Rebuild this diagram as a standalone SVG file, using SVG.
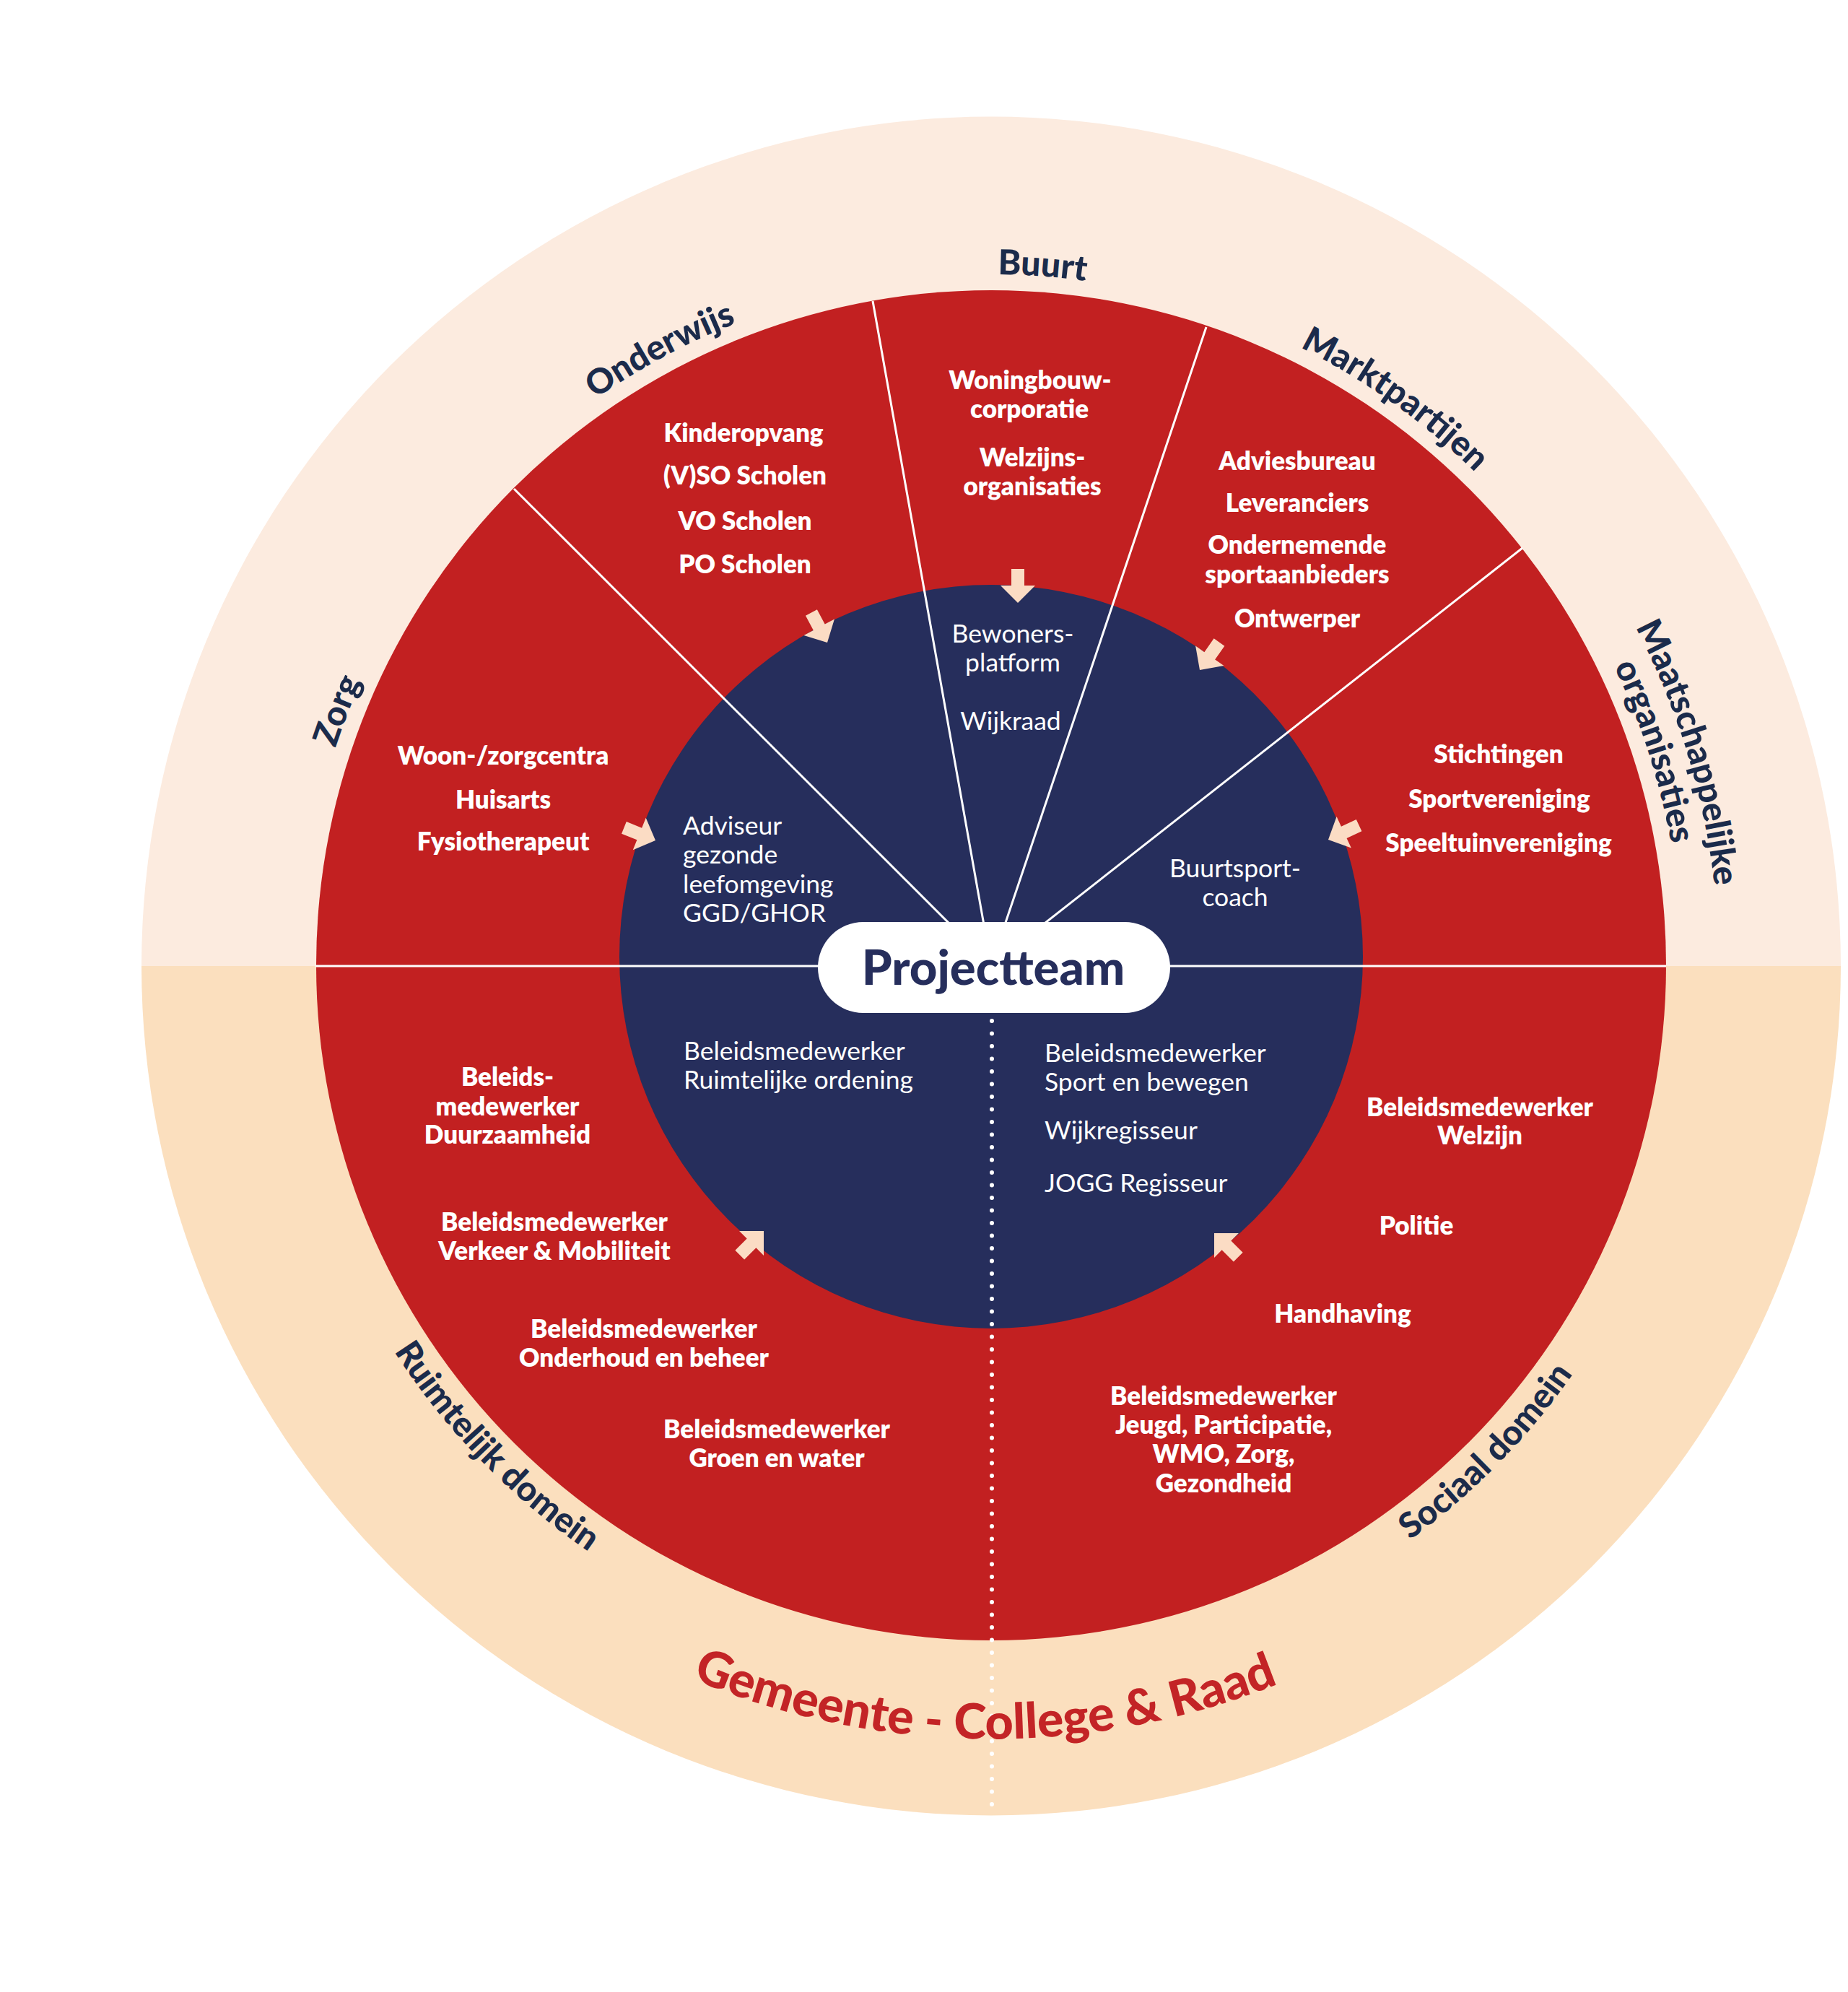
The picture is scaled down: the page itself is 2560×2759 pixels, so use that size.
<svg xmlns="http://www.w3.org/2000/svg" xmlns:xlink="http://www.w3.org/1999/xlink" width="2560" height="2759" viewBox="0 0 2560 2759">
<style>
.b{font-family:Lato,'Liberation Sans',sans-serif;font-weight:800;font-size:35px;fill:#fff;text-anchor:middle}
.r{font-family:Lato,'Liberation Sans',sans-serif;font-weight:400;font-size:35.5px;fill:#fff}
.rm{text-anchor:middle}
.lab{font-family:Lato,'Liberation Sans',sans-serif;font-weight:900;font-size:48px;fill:#1B2B4B;text-anchor:middle}
.gem{font-family:Lato,'Liberation Sans',sans-serif;font-weight:900;font-size:68px;fill:#C32426;text-anchor:middle}
.wl{stroke:#fff;stroke-width:3;fill:none}
.arr{fill:#FBDCC4}
</style>
<defs>
<path id="arrow" d="M0,0 L-24,-24 L-24,-9 L-47,-9 L-47,9 L-24,9 L-24,24 Z"/>
<path id="pTop" d="M416,1337 A957,957 0 0 1 2330,1337"/>
<path id="pTop2" d="M365,1337 A1008,1008 0 0 1 2381,1337"/>
<path id="pBot" d="M388,1337 A985,985 0 0 0 2358,1337"/>
<path id="pGem" d="M301,1337 A1072,1072 0 0 0 2445,1337"/>
</defs>
<rect width="2560" height="2759" fill="#fff"/>
<g id="outer-ring">
<path d="M196,1338 A1177,1177 0 0 1 2550,1338 Z" fill="#FCEBDF"/>
<path d="M2550,1338 A1177,1177 0 0 1 196,1338 Z" fill="#FBDFBE"/>
</g>
<g id="red-ring"><circle cx="1373" cy="1337" r="935" fill="#C22021"/></g>
<g id="navy-core"><circle cx="1373" cy="1325" r="515" fill="#262E5C"/></g>
<g id="connectors">
<line class="wl" x1="437" y1="1338" x2="2308" y2="1338"/>
<line class="wl" x1="712" y1="677" x2="1373" y2="1337"/>
<line class="wl" x1="1209" y1="417" x2="1373" y2="1337"/>
<line class="wl" x1="1671" y1="453" x2="1373" y2="1337"/>
<line class="wl" x1="2109" y1="759" x2="1373" y2="1337"/>
<line x1="1374" y1="1414" x2="1374" y2="2512" stroke="#fff" stroke-width="6" stroke-linecap="round" stroke-dasharray="0 17.5"/>
<use href="#arrow" class="arr" transform="translate(1410,835) rotate(90)"/>
<use href="#arrow" class="arr" transform="translate(1146,890) rotate(62)"/>
<use href="#arrow" class="arr" transform="translate(1662,928) rotate(125)"/>
<use href="#arrow" class="arr" transform="translate(1840,1163) rotate(155)"/>
<use href="#arrow" class="arr" transform="translate(908,1164) rotate(22)"/>
<use href="#arrow" class="arr" transform="translate(1058,1705) rotate(-45)"/>
<use href="#arrow" class="arr" transform="translate(1682,1708) rotate(-135)"/>
</g>
<g id="projectteam">
<rect x="1133" y="1277" width="488" height="126" rx="63" fill="#fff"/>
<text x="1376" y="1364" font-family="Lato,'Liberation Sans',sans-serif" font-weight="900" font-size="67" fill="#262E5C" text-anchor="middle">Projectteam</text>
</g>
<g id="zorg">
<text class="lab"><textPath href="#pTop" startOffset="355.8">Zorg</textPath></text>
<text class="b" x="697" y="1059">Woon-/zorgcentra</text>
<text class="b" x="697" y="1120">Huisarts</text>
<text class="b" x="697" y="1178">Fysiotherapeut</text>
<text class="r" x="946" y="1156">Adviseur</text>
<text class="r" x="946" y="1196">gezonde</text>
<text class="r" x="946" y="1237">leefomgeving</text>
<text class="r" x="946" y="1277">GGD/GHOR</text>
</g>
<g id="onderwijs">
<text class="lab"><textPath href="#pTop" startOffset="1030.6">Onderwijs</textPath></text>
<text class="b" x="1030" y="612">Kinderopvang</text>
<text class="b" x="1032" y="671">(V)SO Scholen</text>
<text class="b" x="1032" y="734">VO Scholen</text>
<text class="b" x="1032" y="794">PO Scholen</text>
</g>
<g id="buurt">
<text class="lab"><textPath href="#pTop" startOffset="1573.4">Buurt</textPath></text>
<text class="b" x="1427" y="539">Woningbouw-</text>
<text class="b" x="1426" y="579">corporatie</text>
<text class="b" x="1430" y="646">Welzijns-</text>
<text class="b" x="1430" y="686">organisaties</text>
<text class="r rm" x="1403" y="890">Bewoners-</text>
<text class="r rm" x="1403" y="930">platform</text>
<text class="r rm" x="1400" y="1011">Wijkraad</text>
</g>
<g id="marktpartijen">
<text class="lab"><textPath href="#pTop" startOffset="2096.2">Marktpartijen</textPath></text>
<text class="b" x="1797" y="651">Adviesbureau</text>
<text class="b" x="1797" y="709">Leveranciers</text>
<text class="b" x="1797" y="767">Ondernemende</text>
<text class="b" x="1797" y="808">sportaanbieders</text>
<text class="b" x="1797" y="869">Ontwerper</text>
</g>
<g id="maatschappelijke-organisaties">
<text class="lab"><textPath href="#pTop2" startOffset="2867.7">Maatschappelijke</textPath></text>
<text class="lab"><textPath href="#pTop" startOffset="2707.6">organisaties</textPath></text>
<text class="b" x="2076" y="1057">Stichtingen</text>
<text class="b" x="2077" y="1119">Sportvereniging</text>
<text class="b" x="2076" y="1180">Speeltuinvereniging</text>
<text class="r rm" x="1711" y="1215">Buurtsport-</text>
<text class="r rm" x="1711" y="1255">coach</text>
</g>
<g id="ruimtelijk-domein">
<text class="lab"><textPath href="#pBot" startOffset="759.9">Ruimtelijk domein</textPath></text>
<text class="r" x="947" y="1468">Beleidsmedewerker</text>
<text class="r" x="947" y="1508">Ruimtelijke ordening</text>
<text class="b" x="703" y="1504">Beleids-</text>
<text class="b" x="703" y="1545">medewerker</text>
<text class="b" x="703" y="1584">Duurzaamheid</text>
<text class="b" x="768" y="1705">Beleidsmedewerker</text>
<text class="b" x="768" y="1745">Verkeer &amp; Mobiliteit</text>
<text class="b" x="892" y="1853">Beleidsmedewerker</text>
<text class="b" x="892" y="1893">Onderhoud en beheer</text>
<text class="b" x="1076" y="1992">Beleidsmedewerker</text>
<text class="b" x="1076" y="2032">Groen en water</text>
</g>
<g id="sociaal-domein">
<text class="lab"><textPath href="#pBot" startOffset="2329.4">Sociaal domein</textPath></text>
<text class="r" x="1447" y="1471">Beleidsmedewerker</text>
<text class="r" x="1447" y="1511">Sport en bewegen</text>
<text class="r" x="1447" y="1578">Wijkregisseur</text>
<text class="r" x="1447" y="1651">JOGG Regisseur</text>
<text class="b" x="2050" y="1546">Beleidsmedewerker</text>
<text class="b" x="2050" y="1585">Welzijn</text>
<text class="b" x="1962" y="1710">Politie</text>
<text class="b" x="1860" y="1832">Handhaving</text>
<text class="b" x="1695" y="1946">Beleidsmedewerker</text>
<text class="b" x="1695" y="1986">Jeugd, Participatie,</text>
<text class="b" x="1695" y="2026">WMO, Zorg,</text>
<text class="b" x="1695" y="2067">Gezondheid</text>
</g>
<g id="gemeente">
<text class="gem"><textPath href="#pGem" startOffset="1674.5">Gemeente - College &amp; Raad</textPath></text>
</g>
</svg>
